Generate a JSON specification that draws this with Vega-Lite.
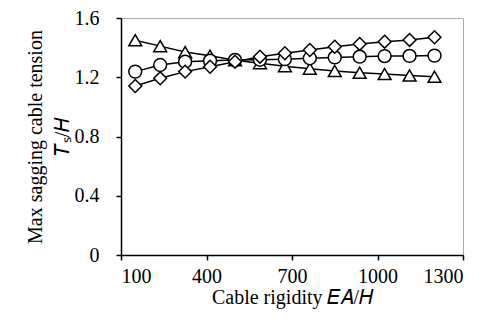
{
  "$schema": "https://vega.github.io/schema/vega-lite/v6.json",
  "autosize": {"type": "none"},
  "padding": {"left": 121, "top": 18, "right": 36, "bottom": 73},
  "width": 342,
  "height": 237,
  "background": "white",
  "config": {
    "view": {"stroke": "#aaaaaa", "strokeWidth": 1},
    "font": "Liberation Serif",
    "axis": {
      "domainColor": "black", "domainWidth": 1.5, "tickColor": "black", "tickWidth": 1.5,
      "tickSize": 5, "grid": false, "labelFont": "Liberation Serif", "labelFontSize": 20,
      "labelColor": "black", "titleFont": "Liberation Serif", "titleFontSize": 20,
      "titleFontWeight": "normal", "titleColor": "black", "titleLineHeight": 27
    }
  },
  "data": {"values": [
    {"x": 150, "y": 1.45, "s": "tri"}, {"x": 237.5, "y": 1.41, "s": "tri"}, {"x": 325, "y": 1.37, "s": "tri"},
    {"x": 412.5, "y": 1.345, "s": "tri"}, {"x": 500, "y": 1.315, "s": "tri"}, {"x": 587.5, "y": 1.295, "s": "tri"},
    {"x": 675, "y": 1.275, "s": "tri"}, {"x": 762.5, "y": 1.258, "s": "tri"}, {"x": 850, "y": 1.242, "s": "tri"},
    {"x": 937.5, "y": 1.23, "s": "tri"}, {"x": 1025, "y": 1.222, "s": "tri"}, {"x": 1112.5, "y": 1.212, "s": "tri"},
    {"x": 1200, "y": 1.203, "s": "tri"},
    {"x": 150, "y": 1.238, "s": "cir"}, {"x": 237.5, "y": 1.283, "s": "cir"}, {"x": 325, "y": 1.305, "s": "cir"},
    {"x": 412.5, "y": 1.312, "s": "cir"}, {"x": 500, "y": 1.317, "s": "cir"}, {"x": 587.5, "y": 1.318, "s": "cir"},
    {"x": 675, "y": 1.322, "s": "cir"}, {"x": 762.5, "y": 1.328, "s": "cir"}, {"x": 850, "y": 1.334, "s": "cir"},
    {"x": 937.5, "y": 1.339, "s": "cir"}, {"x": 1025, "y": 1.343, "s": "cir"}, {"x": 1112.5, "y": 1.344, "s": "cir"},
    {"x": 1200, "y": 1.346, "s": "cir"},
    {"x": 150, "y": 1.141, "s": "dia"}, {"x": 237.5, "y": 1.193, "s": "dia"}, {"x": 325, "y": 1.238, "s": "dia"},
    {"x": 412.5, "y": 1.271, "s": "dia"}, {"x": 500, "y": 1.305, "s": "dia"}, {"x": 587.5, "y": 1.339, "s": "dia"},
    {"x": 675, "y": 1.362, "s": "dia"}, {"x": 762.5, "y": 1.384, "s": "dia"}, {"x": 850, "y": 1.406, "s": "dia"},
    {"x": 937.5, "y": 1.425, "s": "dia"}, {"x": 1025, "y": 1.44, "s": "dia"}, {"x": 1112.5, "y": 1.452, "s": "dia"},
    {"x": 1200, "y": 1.47, "s": "dia"}
  ]},
  "encoding": {
    "x": {"field": "x", "type": "quantitative", "scale": {"domain": [100, 1300], "nice": false},
      "axis": {"values": [100, 400, 700, 1000, 1300], "format": "d", "title": "Cable rigidity   𝐸𝐴/𝐻", "titlePadding": 1, "labelPadding": 6}},
    "y": {"field": "y", "type": "quantitative", "scale": {"domain": [0, 1.6], "nice": false},
      "axis": {"values": [0, 0.4, 0.8, 1.2, 1.6], "format": "~g", "title": ["Max sagging cable tension", "𝑇ₛ/𝐻"], "titlePadding": 2, "labelPadding": 17}},
    "detail": {"field": "s"}
  },
  "layer": [
    {"mark": {"type": "line", "color": "black", "strokeWidth": 1.5}},
    {"mark": {"type": "point", "filled": true, "fill": "white", "stroke": "black", "strokeWidth": 1.5, "size": 165, "opacity": 1},
      "encoding": {"shape": {"field": "s", "type": "nominal", "legend": null,
        "scale": {"domain": ["tri", "cir", "dia"], "range": ["triangle-up", "circle", "diamond"]}}}}
  ]
}
